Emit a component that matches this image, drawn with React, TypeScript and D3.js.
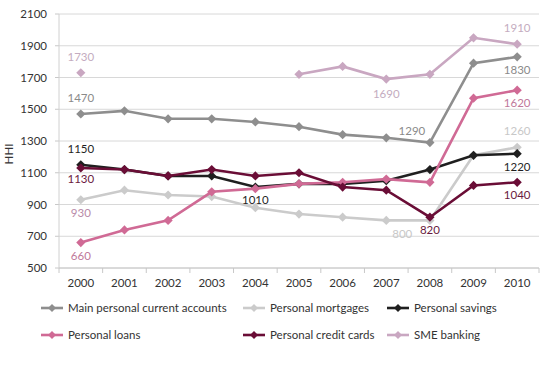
import React from "react";
import * as d3 from "d3";

const years = ["2000","2001","2002","2003","2004","2005","2006","2007","2008","2009","2010"];
const yTicks = [500, 700, 900, 1100, 1300, 1500, 1700, 1900, 2100];

const mainCurrent = [1470, 1490, 1440, 1440, 1420, 1390, 1340, 1320, 1290, 1790, 1830];
const mortgages = [930, 990, 960, 950, 880, 840, 820, 800, 800, 1210, 1260];
const savings = [1150, 1120, 1080, 1080, 1010, 1030, 1030, 1050, 1120, 1210, 1220];
const loans = [660, 740, 800, 980, 1000, 1030, 1040, 1060, 1040, 1570, 1620];
const creditCards = [1130, 1120, 1080, 1120, 1080, 1100, 1010, 990, 820, 1020, 1040];
const sme = [1730, null, null, null, null, 1720, 1770, 1690, 1720, 1950, 1910];

type S = { name: string; values: (number | null)[]; color: string; labelColor: string };
const series: S[] = [
  { name: "Main personal current accounts", values: mainCurrent, color: "#8e8e8e", labelColor: "#8a8a8a" },
  { name: "Personal mortgages", values: mortgages, color: "#cbcbcb", labelColor: "#c8c8c8" },
  { name: "Personal savings", values: savings, color: "#1f1f1f", labelColor: "#1f1f1f" },
  { name: "Personal loans", values: loans, color: "#d06a95", labelColor: "#c0789a" },
  { name: "Personal credit cards", values: creditCards, color: "#6a0d36", labelColor: "#6a1a40" },
  { name: "SME banking", values: sme, color: "#c9a7c1", labelColor: "#c4acc0" },
];

// [series index, year index, dx, dy, label color override]
const labels: [number, number, number, number, string | null][] = [
  [5, 0, 0, -12, null],
  [0, 0, 0, -12, null],
  [2, 0, 0, -12, null],
  [4, 0, 0, 15, null],
  [1, 0, 0, 17, "#b88aa8"],
  [3, 0, 0, 17, null],
  [2, 4, 0, 17, null],
  [0, 8, -18, -8, null],
  [1, 7, 16, 18, null],
  [4, 8, 0, 17, null],
  [5, 7, 0, 19, null],
  [5, 10, 0, -12, null],
  [0, 10, 0, 17, null],
  [3, 10, 0, 17, null],
  [1, 10, 0, -12, null],
  [2, 10, 0, 17, null],
  [4, 10, 0, 17, null],
];

const W = 550, H = 367;
const left = 59, right = 539, top = 14, bottom = 268;
const font = "Lato, 'Open Sans', sans-serif";

export default function App() {
  const x = d3.scaleBand<string>().domain(years).range([left, right]);
  const y = d3.scaleLinear().domain([500, 2100]).range([bottom, top]);
  const cx = (i: number) => (x(years[i]) as number) + x.bandwidth() / 2;
  const line = d3
    .line<number | null>()
    .defined((d) => d !== null)
    .x((_, i) => cx(i))
    .y((d) => y(d as number));
  const diamond = (px: number, py: number, r = 4.6) =>
    `M${px},${py - r}L${px + r},${py}L${px},${py + r}L${px - r},${py}Z`;

  const legendCols = [41, 243, 387];
  const legendRows = [308, 335];

  return (
    <svg width={W} height={H} style={{ position: "absolute", left: 0, top: 0, background: "#fff" }}>
      {yTicks.map((t) => (
        <g key={t}>
          <line x1={left} x2={right} y1={y(t)} y2={y(t)} stroke="#d8d8d8" strokeWidth={1} />
          <line x1={left - 4} x2={left} y1={y(t)} y2={y(t)} stroke="#c8c8c8" />
          <text x={47} y={y(t) + 4} textAnchor="end" fontSize={11.5} fontFamily={font} fill="#333">
            {t}
          </text>
        </g>
      ))}
      <line x1={left} x2={left} y1={top} y2={bottom} stroke="#d0d0d0" />
      <line x1={left} x2={right} y1={bottom} y2={bottom} stroke="#c8c8c8" />
      {years.map((yr, i) => (
        <line key={"t" + i} x1={x(yr) as number} x2={x(yr) as number} y1={bottom} y2={bottom + 5} stroke="#c8c8c8" />
      ))}
      <line x1={right} x2={right} y1={bottom} y2={bottom + 5} stroke="#c8c8c8" />
      {years.map((yr, i) => (
        <text key={yr} x={cx(i)} y={287} textAnchor="middle" fontSize={11.5} fontFamily={font} fill="#333">
          {yr}
        </text>
      ))}
      <text transform={`translate(13,${(top + bottom) / 2 + 13}) rotate(-90)`} textAnchor="middle" fontSize={11.5} fontFamily={font} fill="#333">
        HHI
      </text>

      {series.map((s) => (
        <g key={s.name}>
          <path d={line(s.values) || ""} fill="none" stroke={s.color} strokeWidth={2.6} />
          {s.values.map((v, i) =>
            v === null ? null : <path key={i} d={diamond(cx(i), y(v))} fill={s.color} />
          )}
        </g>
      ))}

      {labels.map(([si, yi, dx, dy, col], k) => {
        const s = series[si];
        const v = s.values[yi] as number;
        return (
          <text key={k} x={cx(yi) + dx} y={y(v) + dy} textAnchor="middle" fontSize={11.5} fontFamily={font} fill={col || s.labelColor}>
            {v}
          </text>
        );
      })}

      {series.map((s, i) => {
        const lx = legendCols[i % 3];
        const ly = legendRows[Math.floor(i / 3)];
        return (
          <g key={"lg" + i}>
            <line x1={lx} x2={lx + 22} y1={ly} y2={ly} stroke={s.color} strokeWidth={2.6} />
            <path d={diamond(lx + 11, ly, 4)} fill={s.color} />
            <text x={lx + 27} y={ly + 4} fontSize={11.5} fontFamily={font} fill="#333">
              {s.name}
            </text>
          </g>
        );
      })}
    </svg>
  );
}
